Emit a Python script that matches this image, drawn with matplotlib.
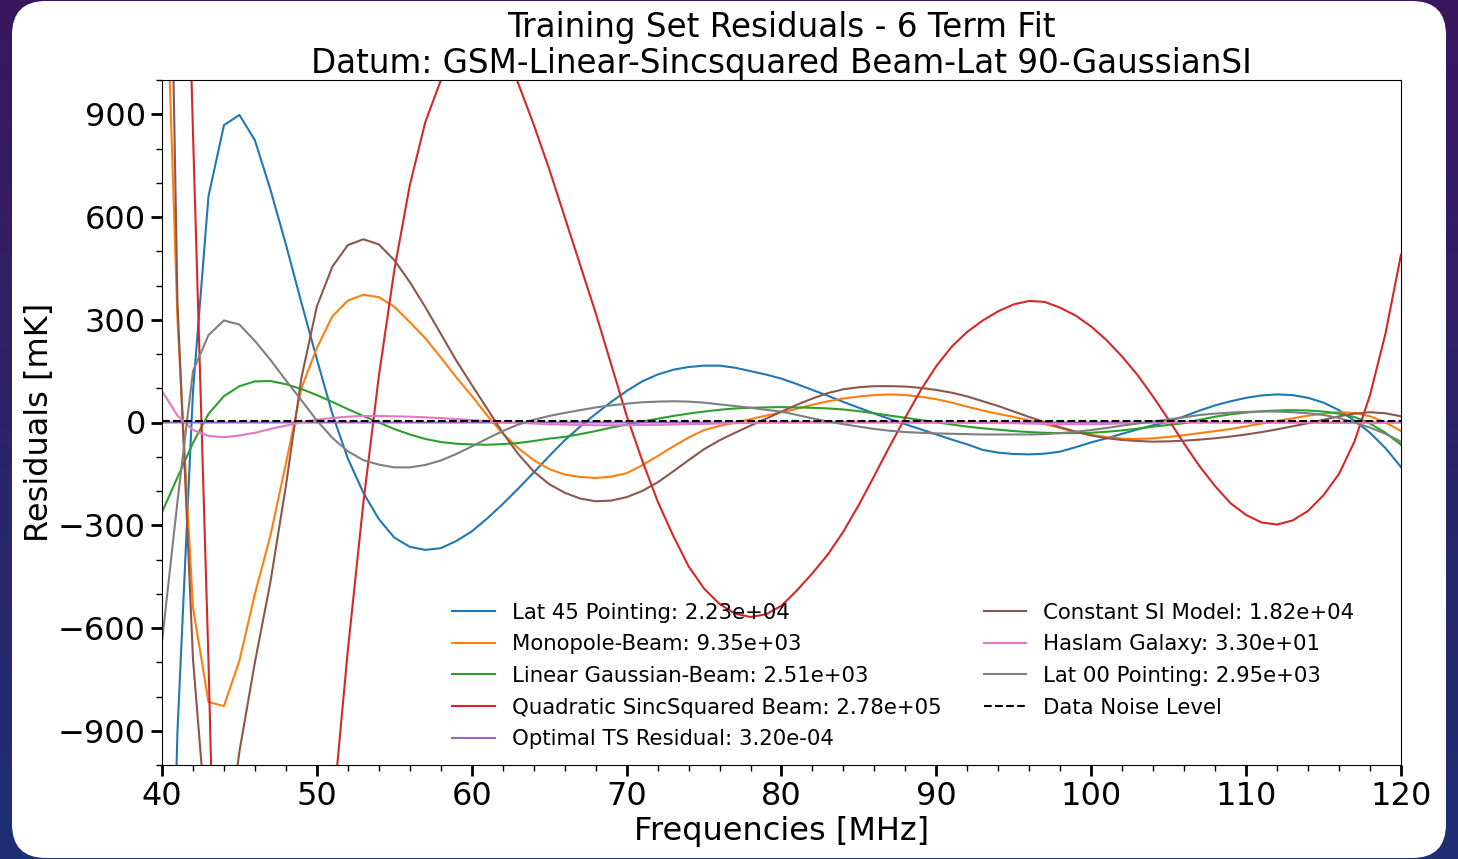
import matplotlib
matplotlib.use("Agg")
import matplotlib.pyplot as plt
import numpy as np
from matplotlib.patches import FancyBboxPatch
from matplotlib.ticker import MultipleLocator

# ── Data (residuals in mK, one value per MHz from 40 to 120) ──────────────────
freqs = np.arange(40, 121)

lat45_pointing = [
    -2600, -900, 90, 660, 868, 898, 824, 680, 520, 350,
    185, 25, -105, -205, -282, -336, -363, -372, -367, -346,
    -318, -280, -238, -193, -146, -98, -52, -12, 25, 60,
    92, 120, 140, 154, 162, 166, 166, 160, 150, 140,
    128, 112, 95, 78, 60, 43, 26, 10, -5, -20,
    -35, -50, -64, -80, -88, -92, -93, -91, -85, -72,
    -58, -46, -33, -20, -8, 3, 18, 35, 50, 62,
    72, 79, 82, 80, 72, 58, 36, 5, -30, -75, -130]

monopole_beam = [
    1700, 300, -540, -816, -828, -695, -500, -330, -120, 100,
    218, 310, 356, 373, 366, 338, 293, 246, 190, 132,
    78, 20, -32, -75, -110, -136, -152, -159, -162, -158,
    -148, -125, -98, -70, -44, -22, -10, 0, 10, 20,
    30, 40, 52, 62, 70, 76, 80, 82, 80, 75,
    68, 58, 46, 35, 25, 16, 6, -5, -16, -27,
    -36, -43, -47, -48, -46, -42, -37, -31, -25, -19,
    -11, -3, 5, 12, 20, 26, 30, 28, 18, 0, -25]

linear_gaussian = [
    -262, -160, -60, 25, 77, 106, 120, 121, 112, 98,
    80, 60, 39, 19, 0, -19, -35, -48, -57, -62,
    -64, -65, -63, -60, -54, -47, -42, -34, -25, -15,
    -6, 3, 11, 19, 26, 32, 37, 41, 43, 44,
    45, 44, 43, 41, 38, 33, 27, 20, 14, 7,
    1, -6, -12, -17, -21, -25, -28, -30, -31, -31,
    -30, -27, -23, -18, -12, -7, -2, 8, 17, 24,
    29, 33, 35, 36, 35, 32, 26, 16, -3, -30, -65]

quadratic_sinc = [
    4500, 2500, 846, -694, -2500, -3300, -3500, -3400, -3000, -2400,
    -1750, -1155, -665, -235, 135, 445, 693, 877, 999, 1090,
    1150, 1160, 1110, 990, 870, 740, 600, 460, 320, 170,
    20, -110, -230, -330, -420, -485, -530, -558, -568, -560,
    -535, -490, -440, -385, -318, -240, -155, -68, 15, 95,
    165, 222, 265, 298, 325, 345, 355, 352, 335, 312,
    280, 240, 192, 138, 75, 8, -62, -128, -186, -236,
    -270, -292, -298, -286, -258, -212, -150, -55, 80, 260, 490]

optimal_ts = [
    0.0003, -0.0002, 0.0004, -0.0003, 0.0002, -0.0004, 0.0003, -0.0002, 0.0001, -0.0003,
    0.0004, -0.0002, 0.0003, -0.0004, 0.0002, -0.0001, 0.0003, -0.0003, 0.0002, -0.0004,
    0.0004, -0.0002, 0.0001, -0.0003, 0.0003, -0.0004, 0.0002, -0.0002, 0.0004, -0.0001,
    0.0003, -0.0003, 0.0002, -0.0004, 0.0001, -0.0002, 0.0004, -0.0003, 0.0003, -0.0002,
    0.0002, -0.0004, 0.0003, -0.0001, 0.0004, -0.0003, 0.0002, -0.0002, 0.0003, -0.0004,
    0.0001, -0.0003, 0.0004, -0.0002, 0.0003, -0.0004, 0.0002, -0.0001, 0.0003, -0.0003,
    0.0004, -0.0002, 0.0002, -0.0004, 0.0003, -0.0001, 0.0002, -0.0003, 0.0004, -0.0002,
    0.0003, -0.0004, 0.0001, -0.0002, 0.0003, -0.0003, 0.0004, -0.0002, 0.0002, -0.0004, 0.0003]

constant_si = [
    2900, 350, -690, -1250, -1300, -960, -700, -466, -185, 130,
    339, 455, 518, 535, 520, 474, 410, 337, 259, 181,
    110, 40, -30, -92, -143, -180, -205, -222, -230, -228,
    -218, -200, -175, -143, -110, -78, -52, -30, -9, 11,
    32, 52, 70, 86, 97, 103, 106, 106, 105, 101,
    95, 87, 76, 62, 48, 32, 16, 1, -14, -27,
    -38, -46, -51, -54, -56, -55, -53, -50, -46, -41,
    -35, -28, -20, -11, -2, 8, 18, 26, 30, 27, 18]

haslam_galaxy = [
    92, 20, -22, -39, -43, -38, -30, -19, -9, 0,
    8, 13, 17, 19, 19, 18, 17, 15, 13, 10,
    7, 4, 1, -1, -3, -5, -6, -7, -8, -8,
    -8, -7, -7, -6, -5, -4, -3, -2, -1, 0,
    1, 1, 2, 2, 2, 2, 2, 2, 1, 1,
    0, 0, -1, -1, -2, -2, -3, -4, -5, -5,
    -5, -4, -3, -1, 0, 1, 1, 1, 1, 1,
    0, 0, 0, 0, 0, 0, -1, -1, -1, 0, 0]

lat00_pointing = [
    -640, -230, 150, 255, 298, 286, 238, 183, 123, 65,
    6, -45, -84, -110, -123, -131, -131, -124, -111, -92,
    -70, -47, -25, -6, 8, 19, 28, 36, 44, 50,
    55, 59, 61, 62, 61, 58, 53, 48, 43, 37,
    32, 22, 12, 3, -5, -12, -19, -24, -28, -30,
    -32, -33, -34, -35, -35, -35, -35, -34, -31, -27,
    -22, -16, -9, -3, 3, 9, 15, 22, 26, 29,
    31, 32, 32, 30, 27, 22, 13, 0, -15, -33, -56]

NOISE_LEVEL = 4.0  # mK

SERIES = [
    ("Lat 45 Pointing: 2.23e+04", lat45_pointing, "C0"),
    ("Monopole-Beam: 9.35e+03", monopole_beam, "C1"),
    ("Linear Gaussian-Beam: 2.51e+03", linear_gaussian, "C2"),
    ("Quadratic SincSquared Beam: 2.78e+05", quadratic_sinc, "C3"),
    ("Optimal TS Residual: 3.20e-04", optimal_ts, "C4"),
    ("Constant SI Model: 1.82e+04", constant_si, "C5"),
    ("Haslam Galaxy: 3.30e+01", haslam_galaxy, "C6"),
    ("Lat 00 Pointing: 2.95e+03", lat00_pointing, "C7"),
]

W, H = 1458, 859
fig = plt.figure(figsize=(W / 100, H / 100), dpi=100)

# ── Slide background + white rounded card ─────────────────────────────────────
bg = fig.add_axes([0, 0, 1, 1], zorder=-10)
bg.set_xlim(0, W)
bg.set_ylim(0, H)
bg.axis("off")
top_col = np.array([0x3a, 0x17, 0x5f]) / 255
bot_col = np.array([0x1f, 0x2f, 0x74]) / 255
t = np.linspace(0, 1, 256)[:, None]
grad = (1 - t)[:, :, None] * bot_col + t[:, :, None] * top_col
bg.imshow(np.repeat(grad, 4, axis=1), extent=(0, W, 0, H), aspect="auto",
          origin="lower", zorder=0)
card = FancyBboxPatch((12, 1), W - 24, H - 2,
                      boxstyle="round,pad=0,rounding_size=34",
                      facecolor="white", edgecolor="none", zorder=1)
bg.add_patch(card)

# ── Main plot ─────────────────────────────────────────────────────────────────
ax = fig.add_axes([162 / W, 1 - 765 / H, (1401 - 162) / W, (765 - 80) / H])
ax.set_facecolor("white")

for label, values, color in SERIES:
    ax.plot(freqs, values, color=color, linewidth=1.5, label=label)
ax.axhline(NOISE_LEVEL, color="black", linestyle="--", linewidth=1.5,
           label="Data Noise Level")

ax.set_xlim(40, 120)
ax.set_ylim(-1000, 1000)
ax.xaxis.set_major_locator(MultipleLocator(10))
ax.xaxis.set_minor_locator(MultipleLocator(2))
ax.yaxis.set_major_locator(MultipleLocator(300))
ax.yaxis.set_minor_locator(MultipleLocator(100))
ax.tick_params(which="major", length=8, width=2, labelsize=23)
ax.tick_params(which="minor", length=4, width=1)

ax.set_xlabel("Frequencies [MHz]", fontsize=23, labelpad=3)
ax.set_ylabel("Residuals [mK]", fontsize=23, labelpad=2)
ax.set_title("Training Set Residuals - 6 Term Fit\n"
             "Datum: GSM-Linear-Sincsquared Beam-Lat 90-GaussianSI",
             fontsize=23.5, pad=5, linespacing=1.12)

ax.legend(ncol=2, fontsize=15.3, frameon=False, loc="lower right",
          bbox_to_anchor=(0.978, -0.005), labelspacing=0.55,
          columnspacing=2.0)

fig.savefig("out.png", dpi=100)
